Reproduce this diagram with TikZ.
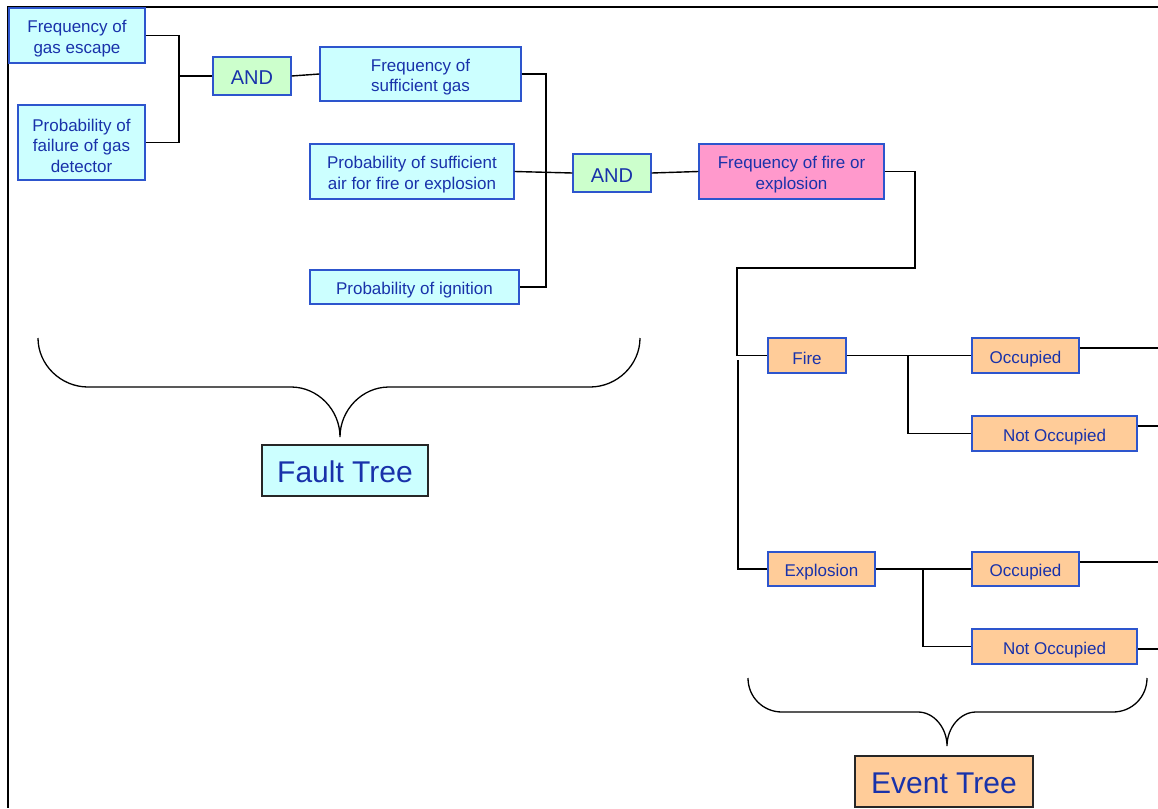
\documentclass[tikz,border=0pt]{standalone}
\usepackage{fontspec}
\setmainfont{Liberation Sans}
\definecolor{txt}{RGB}{25,50,170}
\definecolor{bord}{RGB}{45,85,205}
\definecolor{cyanf}{RGB}{204,255,255}
\definecolor{greenf}{RGB}{204,255,204}
\definecolor{pinkf}{RGB}{255,153,204}
\definecolor{orangef}{RGB}{255,204,153}
\newcommand\topst{\rule{0pt}{18.7pt}}
\begin{document}
\begin{tikzpicture}[x=1pt,y=-1pt,
  box/.style={draw=bord,line width=1.3pt,inner sep=0pt,align=center,text=txt,font=\fontsize{17}{20.5}\selectfont,
    execute at begin node={\rule{0pt}{1.1em}}},
  cbox/.style={box,fill=cyanf},
  gbox/.style={draw=bord,line width=1.3pt,inner sep=0pt,fill=greenf,text=txt,font=\fontsize{20}{24}\selectfont,
    execute at begin node={\rule{0pt}{0.9em}}},
  pbox/.style={box,fill=pinkf},
  obox/.style={box,fill=orangef},
  lbox/.style={draw=black!85,line width=1.6pt,inner sep=0pt,text=txt,font=\fontsize{30}{34}\selectfont,
    execute at begin node={\rule{0pt}{0.82em}}},
  wire/.style={line width=1.4pt,black},
  brace/.style={line width=1.3pt,black}]
\useasboundingbox (0,0) rectangle (1158,808);
% frame
\draw[line width=2.2pt] (1158,7) -- (8,7) -- (8,808);
% fault tree nodes
\node[cbox,minimum width=136pt,minimum height=55pt] (b1) at (77,35.5) {\topst Frequency of\\gas escape};
\node[cbox,minimum width=127pt,minimum height=75pt] (b2) at (81.5,142.5) {\topst Probability of\\failure of gas\\detector};
\node[gbox,minimum width=78pt,minimum height=38pt] (and1) at (252,76) {AND};
\node[cbox,minimum width=201pt,minimum height=54pt] (b3) at (420.5,74) {\topst Frequency of\\sufficient gas};
\node[cbox,minimum width=204pt,minimum height=55pt] (b4) at (412,171.5) {\topst Probability of sufficient\\air for fire or explosion};
\node[cbox,minimum width=209pt,minimum height=34pt] (b5) at (414.5,287) {Probability of ignition};
\node[gbox,minimum width=78pt,minimum height=38pt] (and2) at (612,173) {AND};
\node[pbox,minimum width=185pt,minimum height=55pt] (pink) at (791.5,171.5) {\topst Frequency of fire or\\explosion};
% event tree nodes
\node[obox,minimum width=78pt,minimum height=35pt] (fire) at (807,355.5) {Fire};
\node[obox,minimum width=107pt,minimum height=34pt] (expl) at (821.5,569) {Explosion};
\node[obox,minimum width=107pt,minimum height=35pt] (occ1) at (1025.5,355.5) {Occupied};
\node[obox,minimum width=165pt,minimum height=35pt] (nocc1) at (1054.5,433.5) {Not Occupied};
\node[obox,minimum width=107pt,minimum height=34pt] (occ2) at (1025.5,569) {Occupied};
\node[obox,minimum width=165pt,minimum height=35pt] (nocc2) at (1054.5,646.5) {Not Occupied};
% labels
\node[lbox,fill=cyanf,minimum width=166pt,minimum height=51pt] (fault) at (345,470.5) {Fault Tree};
\node[lbox,fill=orangef,minimum width=178pt,minimum height=51pt] (event) at (944,781.5) {Event Tree};
% junction coordinates
\coordinate (j1) at (179,76);
\coordinate (j2) at (546,173);
\coordinate (j3) at (915,268);
\coordinate (j4) at (737,268);
\coordinate (j5) at (738,360);
\coordinate (j6) at (908,355.5);
\coordinate (j7) at (923,569);
\coordinate (e1) at (1158,348);
\coordinate (e2) at (1158,426);
\coordinate (e3) at (1158,562);
\coordinate (e4) at (1158,649);
% connectors
\draw[wire] (b1.east) -| (j1) |- (b2.east);
\draw[wire] (j1) -- (and1.west);
\draw[wire] (and1.east) -- (b3.west);
\draw[wire] (b3.east) -| (j2) |- (b5.east);
\draw[wire] (b4.east) -- (and2.west);
\draw[wire] (and2.east) -- (pink.west);
\draw[wire] (pink.east) -| (j3) -- (j4) |- (fire.west);
\draw[wire] (j5) |- (expl.west);
\draw[wire] (fire.east) -- (occ1.west);
\draw[wire] (j6) |- (nocc1.west);
\draw[wire] (expl.east) -- (occ2.west);
\draw[wire] (j7) |- (nocc2.west);
\draw[wire] (occ1.east |- e1) -- (e1);
\draw[wire] (nocc1.east |- e2) -- (e2);
\draw[wire] (occ2.east |- e3) -- (e3);
\draw[wire] (nocc2.east |- e4) -- (e4);
% braces
\draw[brace] (38,338) .. controls (38,365) and (61,387) .. (88,387) -- (291,387)
  .. controls (318,387) and (340,410) .. (340,437)
  .. controls (340,410) and (362,387) .. (389,387) -- (590,387)
  .. controls (617,387) and (640,365) .. (640,338);
\draw[brace] (748,678) .. controls (748,697) and (763,712) .. (782,712) -- (918,712)
  .. controls (934,712) and (947,728) .. (947,746)
  .. controls (947,728) and (960,712) .. (976,712) -- (1113,712)
  .. controls (1132,712) and (1147,697) .. (1147,678);
\end{tikzpicture}
\end{document}
